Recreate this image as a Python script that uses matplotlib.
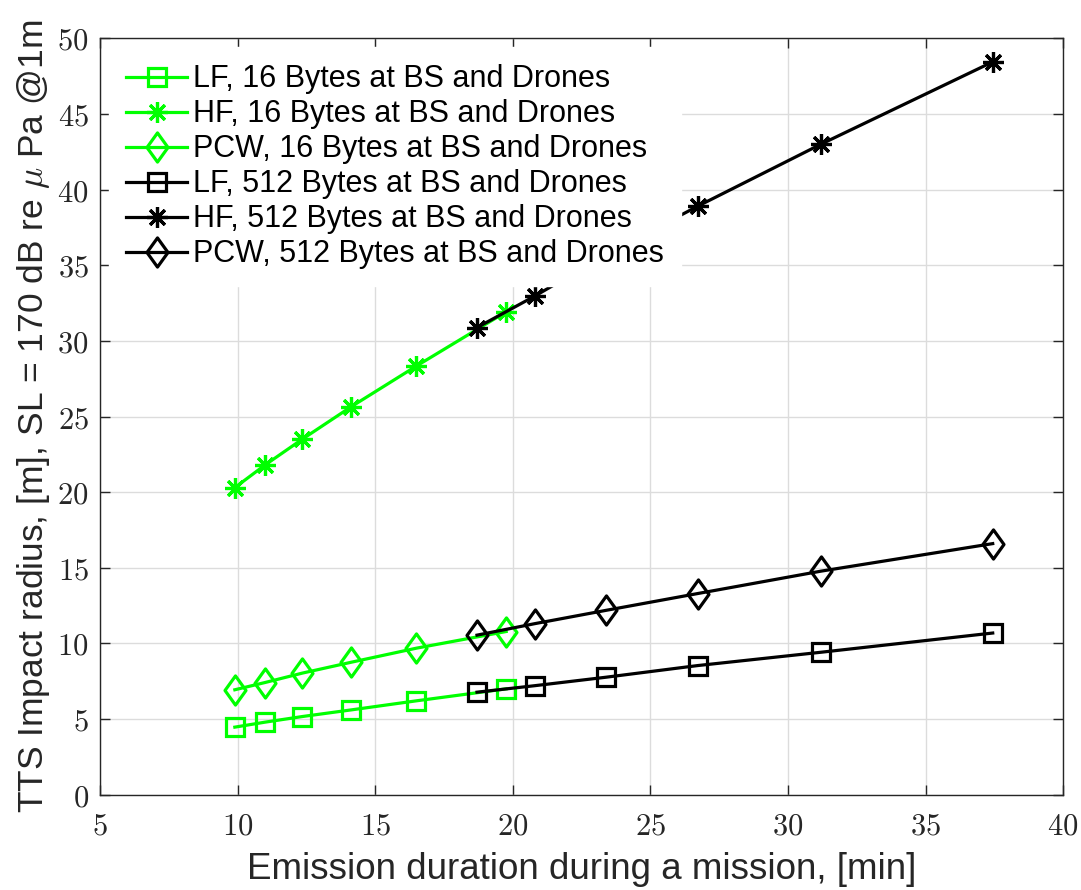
import numpy as np
import matplotlib.pyplot as plt
from matplotlib.path import Path
from matplotlib.ticker import FuncFormatter

plt.rcParams['mathtext.fontset'] = 'cm'

# emission duration [min]
x_16 = [9.9, 11.0, 12.35, 14.13, 16.5, 19.76]
x_512 = [18.7, 20.8, 23.39, 26.72, 31.2, 37.44]

# TTS impact radius [m]
lf_16 = [4.47, 4.80, 5.17, 5.61, 6.21, 7.0]
hf_16 = [20.3, 21.8, 23.5, 25.65, 28.34, 31.92]
pcw_16 = [6.94, 7.42, 8.04, 8.76, 9.69, 10.79]
lf_512 = [6.78, 7.21, 7.77, 8.54, 9.42, 10.69]
hf_512 = [30.88, 32.96, 35.7, 38.9, 43.0, 48.44]
pcw_512 = [10.55, 11.31, 12.19, 13.30, 14.78, 16.6]

labels = ["LF, 16 Bytes at BS and Drones",
          "HF, 16 Bytes at BS and Drones",
          "PCW, 16 Bytes at BS and Drones",
          "LF, 512 Bytes at BS and Drones",
          "HF, 512 Bytes at BS and Drones",
          "PCW, 512 Bytes at BS and Drones"]

green = '#00ff00'
diamond = Path([(0, 1), (0.72, 0), (0, -1), (-0.72, 0), (0, 1)],
               [Path.MOVETO, Path.LINETO, Path.LINETO, Path.LINETO, Path.CLOSEPOLY])
star = (8, 2, 0)

fig = plt.figure(figsize=(10.81, 8.90), dpi=100)
ax = fig.add_axes([0.0925, 0.107, 0.891, 0.85])

kw = dict(linewidth=2.3, markerfacecolor='none', markeredgewidth=2.3)
ax.plot(x_16, lf_16, '-', marker='s', markersize=13, color=green, label=labels[0], **kw)
ax.plot(x_16, hf_16, '-', marker=star, markersize=15, color=green, label=labels[1], **kw)
ax.plot(x_16, pcw_16, '-', marker=diamond, markersize=21, color=green, label=labels[2], **kw)
ax.plot(x_512, lf_512, '-', marker='s', markersize=13, color='black', label=labels[3], **kw)
ax.plot(x_512, hf_512, '-', marker=star, markersize=15, color='black', label=labels[4], **kw)
ax.plot(x_512, pcw_512, '-', marker=diamond, markersize=21, color='black', label=labels[5], **kw)

ax.set_xlim(5, 40)
ax.set_ylim(0, 50)
ax.set_xticks(np.arange(5, 41, 5))
ax.set_yticks(np.arange(0, 51, 5))
fmt = FuncFormatter(lambda v, p: f'${v:g}$')
ax.xaxis.set_major_formatter(fmt)
ax.yaxis.set_major_formatter(fmt)
ax.tick_params(direction='in', length=7, width=1, colors='#262626', labelsize=22,
               top=True, right=True, pad=8)
ax.tick_params(axis='x', pad=12)
for s in ax.spines.values():
    s.set_color('#262626')
    s.set_linewidth(1)
ax.grid(True, color='#dcdcdc', linewidth=1)
ax.set_axisbelow(True)

lab_font = dict(family='Liberation Sans', size=26.5, color='#262626')
ax.set_xlabel('Emission duration during a mission, [min]', fontdict=lab_font, labelpad=8)
ax.set_ylabel(r'TTS Impact radius, [m], SL = 170 dB re $\mu$ Pa @1m',
              fontdict=dict(lab_font, size=25.5), labelpad=4)

leg = ax.legend(loc='upper left', prop=dict(family='Liberation Sans', size=22),
                frameon=True, fancybox=False, framealpha=1, edgecolor='white',
                handlelength=2.0, handletextpad=0.2, labelspacing=0.165,
                borderaxespad=0.3, borderpad=0.55)

plt.savefig('out.png', dpi=100)
